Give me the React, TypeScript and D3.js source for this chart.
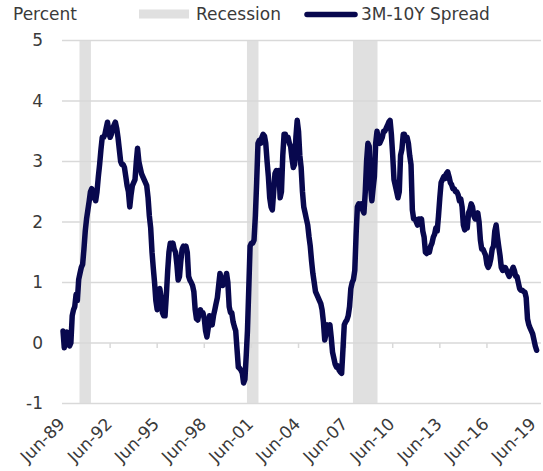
import React from 'react';
import * as d3 from 'd3';

// Monthly 3M-10Y spread (percent), starting Jun-1989
const startYear = 1989;
const startMonth = 5; // June (0-based)
const spread: number[] = [
  0.2, -0.08, 0.15, 0.18, 0.15, -0.05, 0.0, 0.45, 0.55, 0.6,
  0.8, 0.7, 1.05, 1.15, 1.25, 1.3, 1.55, 1.85, 2.05, 2.2,
  2.35, 2.5, 2.55, 2.4, 2.5, 2.35, 2.5, 2.75, 2.95, 3.2,
  3.4, 3.4, 3.45, 3.55, 3.65, 3.5, 3.4, 3.45, 3.55, 3.6,
  3.65, 3.55, 3.4, 3.2, 3.0, 2.95, 2.95, 2.9, 2.75, 2.6,
  2.5, 2.25, 2.45, 2.6, 2.65, 2.7, 3.0, 3.22, 3.0, 2.9,
  2.8, 2.75, 2.7, 2.65, 2.6, 2.4, 2.1, 1.9, 1.5, 1.25,
  1.0, 0.7, 0.55, 0.65, 0.9, 0.75, 0.5, 0.45, 0.45, 0.8,
  1.2, 1.5, 1.65, 1.6, 1.65, 1.55, 1.5, 1.3, 1.04, 1.1,
  1.35, 1.55, 1.6, 1.55, 1.6, 1.5, 1.1, 1.04, 1.0, 0.95,
  0.85, 0.55, 0.4, 0.38, 0.5, 0.55, 0.5, 0.5, 0.4, 0.2,
  0.1, 0.25, 0.45, 0.4, 0.3, 0.45, 0.55, 0.65, 0.75, 0.95,
  1.15, 1.05, 0.95, 1.0, 1.05, 1.15, 1.0, 0.6, 0.5, 0.5,
  0.35, 0.27, 0.2, -0.1, -0.4, -0.42, -0.45, -0.5, -0.66, -0.6,
  -0.2, 0.2, 0.9, 1.6, 1.65, 1.65, 1.7, 2.1, 2.65, 3.3,
  3.35, 3.3, 3.4, 3.45, 3.42, 3.3, 3.0, 2.75, 2.4, 2.25,
  2.2, 2.5, 2.8, 2.85, 2.8, 2.85, 2.4, 2.5, 3.1, 3.45,
  3.45, 3.35, 3.4, 3.3, 3.25, 3.05, 2.9, 2.95, 3.4, 3.68,
  3.5, 3.1, 2.9, 2.5, 2.25, 2.15, 2.05, 1.95, 1.75, 1.6,
  1.35, 1.15, 1.0, 0.85, 0.8, 0.75, 0.7, 0.65, 0.55, 0.35,
  0.05, 0.15, 0.3, 0.25, 0.3, 0.1, -0.15, -0.25, -0.35, -0.4,
  -0.38, -0.45, -0.48, -0.5, -0.1, 0.3, 0.35, 0.38, 0.45, 0.6,
  0.9, 1.0, 1.05, 1.2, 1.8, 2.25, 2.3, 2.25, 2.3, 2.2,
  2.15, 2.5, 3.0, 3.3, 3.25, 2.6, 2.35, 2.55, 2.75, 3.3,
  3.5, 3.35, 3.3, 3.35, 3.4, 3.5, 3.5, 3.55, 3.6, 3.65,
  3.68, 3.45, 3.1, 2.7, 2.6, 2.5, 2.4, 2.5, 3.1, 3.2,
  3.45, 3.45, 3.35, 3.4, 3.3, 3.1, 2.95, 2.2, 2.05, 2.05,
  2.0, 1.95, 2.05, 2.0, 2.05, 1.85, 1.75, 1.5, 1.48, 1.55,
  1.5, 1.6, 1.65, 1.75, 1.8, 1.9, 1.85, 2.1, 2.4, 2.65,
  2.7, 2.75, 2.72, 2.8, 2.83, 2.75, 2.65, 2.62, 2.55, 2.55,
  2.5, 2.5, 2.45, 2.35, 2.38, 2.25, 1.95, 1.87, 2.0, 1.9,
  2.15, 2.2, 2.3, 2.25, 2.1, 2.05, 2.1, 2.15, 2.0, 1.7,
  1.55, 1.55, 1.5, 1.45, 1.3, 1.25, 1.3, 1.4, 1.55, 1.6,
  1.85, 1.95, 1.75, 1.6, 1.45, 1.25, 1.2, 1.25, 1.25, 1.2,
  1.15, 1.1, 1.15, 1.2, 1.25, 1.2, 1.1, 1.1, 1.0, 0.9,
  0.87, 0.87, 0.85, 0.84, 0.75, 0.4, 0.3, 0.25, 0.2, 0.15,
  0.05, -0.05, -0.12,
];

const xTickYears = [1989, 1992, 1995, 1998, 2001, 2004, 2007, 2010, 2013, 2016, 2019];
const xTickLabels = ['Jun-89', 'Jun-92', 'Jun-95', 'Jun-98', 'Jun-01', 'Jun-04', 'Jun-07', 'Jun-10', 'Jun-13', 'Jun-16', 'Jun-19'];
const yTicks = [-1, 0, 1, 2, 3, 4, 5];
const recessionStarts = ['1990-07-01', '2001-03-01', '2007-12-01'];
const recessionEnds = ['1991-03-01', '2001-11-01', '2009-06-01'];

const FONT = '"DejaVu Sans", sans-serif';
const TEXT = '#3a3a3a';
const GRID = '#d9d9d9';
const SHADE = '#e0e0e0';
const NAVY = '#08084e';

export default function App() {
  const W = 543;
  const H = 471;
  const left = 62;
  const right = 541;
  const x = d3
    .scaleUtc()
    .domain([new Date(Date.UTC(1989, 5, 1)), new Date(Date.UTC(2019, 5, 1))])
    .range([63, 534]);
  const y = d3.scaleLinear().domain([-1, 5]).range([403.5, 40.5]);

  const data = spread.map((v, i) => ({ date: new Date(Date.UTC(startYear, startMonth + i, 1)), v }));
  const line = d3
    .line<{ date: Date; v: number }>()
    .x((d) => x(d.date))
    .y((d) => y(d.v));

  const recessions = recessionStarts.map((s, i) => ({
    x0: x(new Date(s + 'T00:00:00Z')),
    x1: x(new Date(recessionEnds[i] + 'T00:00:00Z')),
  }));

  return (
    <svg
      width={W}
      height={H}
      style={{ position: 'absolute', left: 0, top: 0, background: '#fff' }}
      fontFamily={FONT}
    >
      {recessions.map((r, i) => (
        <rect key={i} x={r.x0 - 0.5} y={y(5)} width={r.x1 - r.x0 + 1} height={y(-1) - y(5)} fill={SHADE} />
      ))}
      {yTicks.map((t) => (
        <g key={t}>
          <line x1={left} x2={right} y1={y(t)} y2={y(t)} stroke={GRID} strokeWidth={1.5} />
          <text x={43} y={y(t)} dy="0.35em" textAnchor="end" fontSize={17} fill={TEXT}>
            {t}
          </text>
        </g>
      ))}
      {xTickYears.map((yr, i) => {
        const tx = x(new Date(Date.UTC(yr, 5, 1)));
        return (
          <g key={yr}>
            <line x1={tx} x2={tx} y1={y(0)} y2={y(0) + 5} stroke={GRID} strokeWidth={1.5} />
            <text
              transform={`translate(${tx + 3},${425}) rotate(-45)`}
              textAnchor="end"
              fontSize={17}
              fill={TEXT}
            >
              {xTickLabels[i]}
            </text>
          </g>
        );
      })}
      <path
        d={line(data) || ''}
        fill="none"
        stroke={NAVY}
        strokeWidth={5.5}
        strokeLinejoin="round"
        strokeLinecap="round"
      />
      {/* title / legend */}
      <text x={13} y={20} fontSize={17} fill={TEXT}>
        Percent
      </text>
      <rect x={139} y={9.5} width={50} height={9} fill={SHADE} />
      <text x={196} y={20} fontSize={17} fill={TEXT}>
        Recession
      </text>
      <line x1={307} x2={355} y1={14.5} y2={14.5} stroke={NAVY} strokeWidth={5.5} strokeLinecap="round" />
      <text x={361} y={20} fontSize={17} fill={TEXT}>
        3M-10Y Spread
      </text>
    </svg>
  );
}
